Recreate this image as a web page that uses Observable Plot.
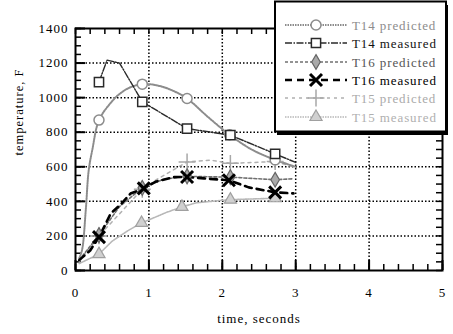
<!DOCTYPE html>
<html>
<head>
<meta charset="utf-8">
<script src="https://cdn.jsdelivr.net/npm/d3@7"></script>
<script src="https://cdn.jsdelivr.net/npm/@observablehq/plot@0.6"></script>
<style>
  html, body { margin: 0; padding: 0; background: #fff; }
  #chart { position: relative; width: 453px; height: 334px; }
</style>
</head>
<body>
<div id="chart"></div>
<script>
// ---- data (time in seconds, temperature in F; m = marker drawn at that point) ----
const t14pT = [0.05,0.09,0.14,0.18,0.23,0.32,0.48,0.61,0.75,0.91,1.1,1.3,1.52,1.8,2.1,2.4,2.72,3.0];
const t14pV = [70,120,350,580,700,870,970,1025,1060,1078,1072,1045,995,890,785,700,640,600];
const t14pM = [0,0,0,0,0,1,0,0,0,1,0,0,1,0,1,0,1,0];

const t14mT = [0.32,0.43,0.6,0.91,1.52,2.11,2.72,3.0];
const t14mV = [1090,1217,1200,976,821,783,675,625];
const t14mM = [1,0,0,1,1,1,1,0];

const t16pT = [0.05,0.32,0.6,0.91,1.2,1.52,2.11,2.72,2.95];
const t16pV = [60,205,370,478,528,545,540,525,530];
const t16pM = [0,1,0,1,0,1,1,1,0];

const t16mT = [0.05,0.2,0.32,0.48,0.61,0.75,0.93,1.1,1.34,1.52,1.75,2.09,2.36,2.72,2.97];
const t16mV = [60,116,193,330,380,445,475,515,540,541,533,522,481,452,446];
const t16mM = [0,0,1,0,0,0,1,0,0,1,0,1,0,1,0];

const t15pT = [0.05,0.32,0.91,1.1,1.52,1.84,2.11,2.72,2.98];
const t15pV = [50,200,470,525,628,638,620,630,598];
const t15pM = [0,1,1,0,1,0,1,1,0];

const t15mT = [0.05,0.32,0.5,0.72,0.9,1.25,1.45,1.65,2.11,2.72];
const t15mV = [40,95,170,232,275,338,368,392,410,418];
const t15mM = [0,1,0,0,1,0,1,0,1,1];

const xTicks = [0,1,2,3,4,5];
const yTicks = [0,200,400,600,800,1000,1200,1400];
const xMinor = d3.range(0, 5.0001, 0.2);
const yMinor = d3.range(0, 1400.001, 50);

const seriesNames = ["T14 predicted","T14 measured","T16 predicted","T16 measured","T15 predicted","T15 measured"];

const toRows = (T, V, M) => T.map((t, i) => ({t, v: V[i], m: M[i]}));
const S = {
  "T14 predicted": toRows(t14pT, t14pV, t14pM),
  "T14 measured": toRows(t14mT, t14mV, t14mM),
  "T16 predicted": toRows(t16pT, t16pV, t16pM),
  "T16 measured": toRows(t16mT, t16mV, t16mM),
  "T15 predicted": toRows(t15pT, t15pV, t15pM),
  "T15 measured": toRows(t15mT, t15mV, t15mM)
};

// styles per series
const ST = {
  "T14 predicted": {line: {stroke: "#8c8c8c", strokeWidth: 2, strokeDasharray: "1.5,1"}, curve: "catmull-rom",
                    dot: {symbol: "circle", r: 5, stroke: "#8c8c8c", fill: "white", strokeWidth: 1.5}, text: "#8c8c8c"},
  "T14 measured":  {line: {stroke: "#2a2a2a", strokeWidth: 1.4, strokeDasharray: "7,1.5,1.5,1.5"}, curve: "linear",
                    dot: {symbol: "square", r: 5.2, stroke: "#2a2a2a", fill: "white", strokeWidth: 1.5}, text: "#111"},
  "T16 predicted": {line: {stroke: "#707070", strokeWidth: 1.6, strokeDasharray: "3,2"}, curve: "linear",
                    dot: {symbol: "diamond", r: 4.5, stroke: "#666", fill: "#aaa", strokeWidth: 1.2}, text: "#555"},
  "T16 measured":  {line: {stroke: "#000", strokeWidth: 2.6, strokeDasharray: "7,5"}, curve: "linear",
                    dot: {symbol: "times", r: 5.5, stroke: "#000", fill: "none", strokeWidth: 3}, text: "#000"},
  "T15 predicted": {line: {stroke: "#b0b0b0", strokeWidth: 1.5, strokeDasharray: "3,4"}, curve: "linear",
                    dot: {symbol: "plus", r: 5.5, stroke: "#a8a8a8", fill: "none", strokeWidth: 1.5}, text: "#aaa"},
  "T15 measured":  {line: {stroke: "#b8b8b8", strokeWidth: 1.6, strokeDasharray: "1.5,1"}, curve: "linear",
                    dot: {symbol: "triangle", r: 4.5, stroke: "#a0a0a0", fill: "#d0d0d0", strokeWidth: 1.2}, text: "#b0b0b0"}
};

const drawOrder = ["T15 measured","T15 predicted","T16 predicted","T14 predicted","T14 measured","T16 measured"];

const W = 453, H = 334, mL = 75, mR = 11, mT = 28, mB = 64;
const plotW = W - mL - mR, plotH = H - mT - mB;
const font = "'Liberation Serif', 'Times New Roman', serif";

const marks = [
  // dotted grid
  Plot.ruleX(xTicks.slice(1, -1), {stroke: "#000", strokeWidth: 1.5, strokeDasharray: "1.5,2"}),
  Plot.ruleY(yTicks.slice(1, -1), {stroke: "#000", strokeWidth: 1.5, strokeDasharray: "1.5,2"}),
  // inward minor / major ticks on all four sides
  Plot.ruleX(xMinor, {stroke: "#000", strokeWidth: 1.5, insetTop: plotH - 6}),
  Plot.ruleX(xMinor, {stroke: "#000", strokeWidth: 1.5, insetBottom: plotH - 6}),
  Plot.ruleY(yMinor, {stroke: "#000", strokeWidth: 1.5, insetRight: plotW - 6}),
  Plot.ruleY(yMinor, {stroke: "#000", strokeWidth: 1.5, insetLeft: plotW - 6}),
  Plot.ruleX(xTicks, {stroke: "#000", strokeWidth: 2, insetTop: plotH - 10}),
  Plot.ruleY(yTicks, {stroke: "#000", strokeWidth: 2, insetRight: plotW - 10}),
];

for (const name of drawOrder) {
  const st = ST[name];
  marks.push(Plot.line(S[name], {x: "t", y: "v", curve: st.curve, ...st.line}));
}
for (const name of drawOrder) {
  const st = ST[name];
  marks.push(Plot.dot(S[name].filter(d => d.m), {x: "t", y: "v", ...st.dot}));
}

marks.push(Plot.frame({stroke: "#000", strokeWidth: 2}));
marks.push(Plot.text(["time, seconds"], {frameAnchor: "bottom", dy: 52, fontSize: 13, fill: "#000"}));
marks.push(Plot.text(["temperature, F"], {frameAnchor: "left", dx: -57, dy: 6, rotate: -90, fontSize: 12.5, fill: "#000"}));

const chart = Plot.plot({
  width: W, height: H,
  marginLeft: mL, marginRight: mR, marginTop: mT, marginBottom: mB,
  style: {fontFamily: font, fontSize: "13px", color: "#000", background: "white", letterSpacing: "1px"},
  x: {domain: [0, 5], ticks: xTicks, tickSize: 0, tickPadding: 17, label: null, tickFormat: d => String(d)},
  y: {domain: [0, 1400], ticks: yTicks, tickSize: 0, tickPadding: 7, label: null, tickFormat: d => String(d)},
  marks
});
document.getElementById("chart").appendChild(chart);

// ---- legend box (drawn into the same SVG) ----
const svg = d3.select(chart);
const lg = svg.append("g").attr("font-family", font).attr("font-size", 13)
  .attr("letter-spacing", "0.9px").attr("text-anchor", "start");
lg.append("rect").attr("x", 277).attr("y", 5).attr("width", 171).attr("height", 130).attr("fill", "#000");
lg.append("rect").attr("x", 275).attr("y", 1.5).attr("width", 171).attr("height", 130)
  .attr("fill", "white").attr("stroke", "#000").attr("stroke-width", 2);
const rowY = [25, 43, 62, 80, 98, 117];
const sym = {circle: d3.symbolCircle, square: d3.symbolSquare, diamond: d3.symbolDiamond,
             times: d3.symbolTimes, plus: d3.symbolPlus, triangle: d3.symbolTriangle};
seriesNames.forEach((name, i) => {
  const st = ST[name], y = rowY[i];
  lg.append("line").attr("x1", 285).attr("x2", 347).attr("y1", y).attr("y2", y)
    .attr("stroke", st.line.stroke).attr("stroke-width", st.line.strokeWidth)
    .attr("stroke-dasharray", st.line.strokeDasharray);
  const r = st.dot.r;
  lg.append("path").attr("transform", `translate(316,${y})`)
    .attr("d", d3.symbol(sym[st.dot.symbol], Math.PI * r * r)())
    .attr("fill", st.dot.fill).attr("stroke", st.dot.stroke).attr("stroke-width", st.dot.strokeWidth);
  lg.append("text").attr("x", 352).attr("y", y).attr("dy", "0.35em")
    .attr("text-anchor", "start").attr("fill", st.text).text(name);
});
</script>
</body>
</html>
